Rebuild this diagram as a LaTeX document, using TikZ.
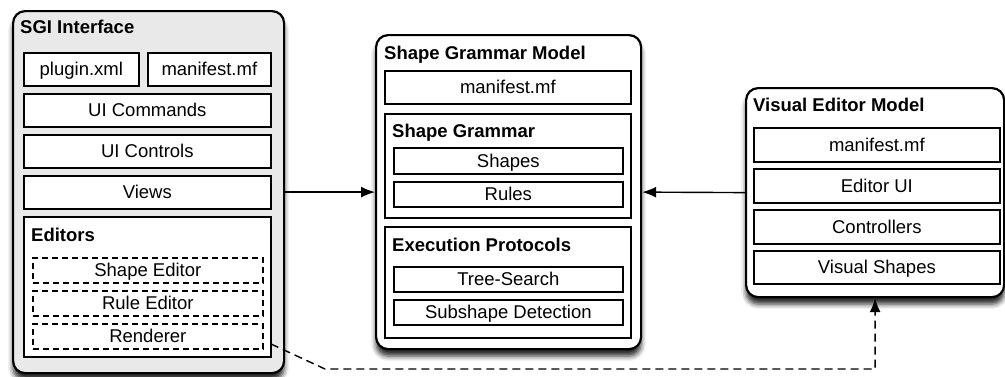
\documentclass[tikz,border=0pt]{standalone}
\usepackage{fontspec}
\setmainfont{Liberation Sans}
\usetikzlibrary{arrows.meta,shadows.blur,calc}
\definecolor{panelgray}{HTML}{E9E9E9}
\tikzset{
  every node/.style={font=\fontsize{18.5}{20}\selectfont},
  outer/.style={draw=black, line width=2.2pt, rounded corners=12pt, fill=white, anchor=north west, inner sep=0pt,
    blur shadow={shadow xshift=0pt, shadow yshift=-7pt, shadow blur radius=5pt, shadow opacity=85}},
  inbox/.style={draw=black, line width=1.7pt, fill=white, anchor=north west, inner sep=0pt, text height=13pt, text depth=0pt},
  group/.style={draw=black, line width=1.7pt, fill=white, anchor=north west, inner sep=0pt},
  dbox/.style={inbox, dash pattern=on 6pt off 4pt},
  title/.style={anchor=base west, inner sep=0pt, font=\fontsize{18.5}{20}\selectfont\bfseries},
  link/.style={line width=1.4pt, -{Latex[length=14pt,width=11pt]}},
  dlink/.style={link, dash pattern=on 8pt off 5pt}
}
\begin{document}
\begin{tikzpicture}[x=1pt,y=-1pt]
\useasboundingbox (0,0) rectangle (1005,376);

% ---- SGI Interface ----
\node[outer, fill=panelgray, minimum width=271pt, minimum height=362pt] (sgi) at (12,10) {};
\node[title] (sgiT) at (20,33) {SGI Interface};
\node[inbox, minimum width=115pt, minimum height=33pt] (plugin) at (23,52) {plugin.xml};
\node[inbox, minimum width=123pt, minimum height=33pt] (mf1) at (147,52) {manifest.mf};
\node[inbox, minimum width=247pt, minimum height=33pt] (cmds) at (23,93) {UI Commands};
\node[inbox, minimum width=247pt, minimum height=33pt] (ctrls) at (23,134) {UI Controls};
\node[inbox, minimum width=247pt, minimum height=33pt] (views) at (23,175) {Views};
\node[group, minimum width=247pt, minimum height=140pt] (editors) at (23,216) {};
\node[title] (editorsT) at (31,241) {Editors};
\node[dbox, minimum width=230pt, minimum height=25pt] (shapeed) at (32,257) {Shape Editor};
\node[dbox, minimum width=230pt, minimum height=25pt] (ruleed) at (32,290) {Rule Editor};
\node[dbox, minimum width=230pt, minimum height=25pt] (renderer) at (32,323) {Renderer};

% ---- Shape Grammar Model ----
\node[outer, minimum width=265pt, minimum height=314pt] (sgm) at (375,34) {};
\node[title] (sgmT) at (384,59) {Shape Grammar Model};
\node[inbox, minimum width=246pt, minimum height=33pt] (mf2) at (384,70) {manifest.mf};
\node[group, minimum width=246pt, minimum height=104pt] (grammar) at (384,113) {};
\node[title] (grammarT) at (392,137) {Shape Grammar};
\node[inbox, minimum width=229pt, minimum height=26pt] (shapes) at (393,147) {Shapes};
\node[inbox, minimum width=229pt, minimum height=25pt] (rules) at (393,181) {Rules};
\node[group, minimum width=246pt, minimum height=111pt] (exec) at (384,226) {};
\node[title] (execT) at (392,251) {Execution Protocols};
\node[inbox, minimum width=229pt, minimum height=25pt] (tree) at (393,266) {Tree-Search};
\node[inbox, minimum width=229pt, minimum height=25pt] (subshape) at (393,299) {Subshape Detection};

% ---- Visual Editor Model ----
\node[outer, minimum width=258pt, minimum height=209pt] (vem) at (745,87) {};
\node[title] (vemT) at (753,111) {Visual Editor Model};
\node[inbox, minimum width=246pt, minimum height=34pt] (mf3) at (753,127) {manifest.mf};
\node[inbox, minimum width=246pt, minimum height=34pt] (edui) at (753,168) {Editor UI};
\node[inbox, minimum width=246pt, minimum height=34pt] (controllers) at (753,209) {Controllers};
\node[inbox, minimum width=246pt, minimum height=33pt] (vshapes) at (753,250) {Visual Shapes};

% ---- connectors ----
\draw[link] (sgi.east) -- (sgm.west);
\draw[link] (vem.west) -- (sgm.east);
\coordinate (dstart) at (271,344);
\coordinate (dbend) at (325,369);
\draw[dlink] (dstart) -- (dbend) -| (vem.south);
\end{tikzpicture}
\end{document}
